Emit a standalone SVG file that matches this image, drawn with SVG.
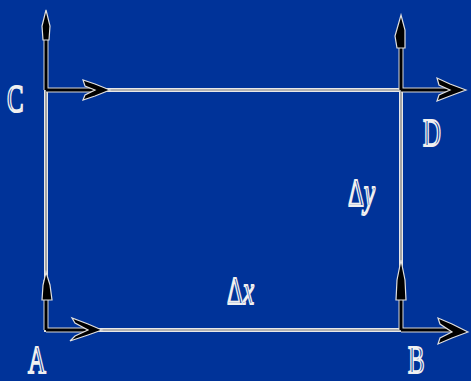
<svg xmlns="http://www.w3.org/2000/svg" width="471" height="381" viewBox="0 0 471 381">
<style>
.edge-o{stroke:#e8e8e8;stroke-width:4;fill:none}
.edge-i{stroke:#7a7a7a;stroke-width:1.2;fill:none}
.vec-o{stroke:#d8d8d8;stroke-width:5;fill:none}
.vec-i{stroke:#000;stroke-width:3;fill:none}
.head{fill:#000;stroke:#e0e0e0;stroke-width:1.2}
.lbl{font-family:"Liberation Serif",serif;font-size:40px;fill:#003399;stroke:#f0f0f0;stroke-width:2;}
</style>
<rect width="471" height="381" fill="#003399"/>
<g id="connectors">
<path class="edge-o" d="M46,90 H401 V330 H46 Z"/>
<path class="edge-i" d="M46,90 H401 V330 H46 Z"/>
</g>
<g id="vectors">
<path class="vec-o" d="M46,90 V22 M46,90 H98"/>
<path class="vec-i" d="M46,90 V22 M46,90 H98"/>
<path class="head" d="M46,10 L50,26 L49,40 L43,40 L42,26 Z"/>
<path class="head" d="M110,90 L95,84 L83,80 L85,86 L95,90 L85,95 L83,100 L95,96 Z"/>
<path class="vec-o" d="M401,90 V26 M401,90 H455"/>
<path class="vec-i" d="M401,90 V26 M401,90 H455"/>
<path class="head" d="M401,15 L405,30 L405,48 L397,48 L395,36 Z"/>
<path class="head" d="M466,90 L450,84 L437,78 L439,85 L450,90 L439,95 L437,101 L450,96 Z"/>
<path class="vec-o" d="M46,330 V280 M46,330 H92"/>
<path class="vec-i" d="M46,330 V280 M46,330 H92"/>
<path class="head" d="M46,272 L50,285 L52,300 L42,300 L43,285 Z"/>
<path class="head" d="M102,330 L88,324 L72,318 L75,323 L88,330 L75,336 L70,341 L88,335 Z"/>
<path class="vec-o" d="M401,330 V272 M401,330 H458"/>
<path class="vec-i" d="M401,330 V272 M401,330 H458"/>
<path class="head" d="M401,260 L405,280 L406,300 L396,300 L397,280 Z"/>
<path class="head" d="M468,332 L452,324 L438,318 L440,324 L452,332 L440,338 L438,344 L452,338 Z"/>
</g>
<g id="labels">
<text class="lbl" transform="translate(7,112) scale(0.62,1)">C</text>
<text class="lbl" transform="translate(423,146) scale(0.62,1)">D</text>
<text class="lbl" transform="translate(28,373) scale(0.62,1)">A</text>
<text class="lbl" transform="translate(408,373) scale(0.62,1)">B</text>
<text class="lbl" transform="translate(348,206) scale(0.62,1)">Δ<tspan font-style="italic">y</tspan></text>
<text class="lbl" transform="translate(227,304) scale(0.62,1)">Δ<tspan font-style="italic">x</tspan></text>
</g>
</svg>
